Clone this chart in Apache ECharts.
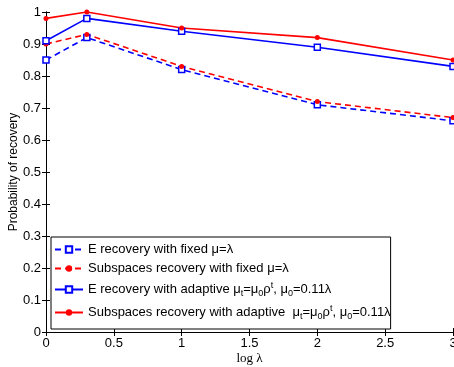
<!DOCTYPE html>
<html>
<head>
<meta charset="utf-8">
<script src="https://cdn.jsdelivr.net/npm/echarts@6/dist/echarts.min.js"></script>
<style>
  html, body { margin: 0; padding: 0; background: #fff; }
  #chart { width: 454px; height: 367px; }
</style>
</head>
<body>
<div id="chart"></div>
<script>
// log(lambda) positions
const logLambda = [0, 0.301, 1, 2, 3];
const eFixed = [0.85, 0.92, 0.82, 0.71, 0.66];
const subFixed = [0.90, 0.93, 0.83, 0.72, 0.67];
const eAdaptive = [0.91, 0.98, 0.94, 0.89, 0.83];
const subAdaptive = [0.98, 1.0, 0.95, 0.92, 0.85];
const seriesNames = [
  "E recovery with fixed μ=λ",
  "Subspaces recovery with fixed μ=λ",
  "E recovery with adaptive μt=μ0ρt, μ0=0.11λ",
  "Subspaces recovery with adaptive μt=μ0ρt, μ0=0.11λ"
];
const legendText = [
  "E recovery with fixed μ=λ",
  "Subspaces recovery with fixed μ=λ",
  "E recovery with adaptive μ{sub|t}=μ{sub|0}ρ{sup|t}, μ{sub|0}=0.11λ",
  "Subspaces recovery with adaptive  μ{sub|t}=μ{sub|0}ρ{sup|t}, μ{sub|0}=0.11λ"
];

const pairs = (ys) => logLambda.map((x, i) => [x, ys[i]]);

const chart = echarts.init(document.getElementById("chart"));
const font = "'Liberation Sans', Arial, sans-serif";

const boxAxis = {
  axisLine: { show: true, lineStyle: { color: "#000", width: 1 } },
  axisTick: { show: true, inside: true, length: 4, lineStyle: { color: "#000" } },
  splitLine: { show: false }
};

function makeSeries(name, data, color, dashed, symbol, size) {
  return {
    name: name,
    type: "line",
    data: data,
    symbol: symbol,
    symbolSize: size,
    lineStyle: { color: color, width: 1.6, type: dashed ? [6, 4] : "solid" },
    itemStyle: {
      color: symbol === "rect" ? "#fff" : color,
      borderColor: color,
      borderWidth: symbol === "rect" ? 1.5 : 0
    }
  };
}

const option = {
  animation: false,
  grid: { left: 46, right: 1, top: 12, bottom: 35, outerBoundsMode: "none" },
  textStyle: { fontFamily: font },
  xAxis: [
    Object.assign({}, boxAxis, {
      type: "value", min: 0, max: 3, interval: 0.5,
      axisLabel: { color: "#000", fontSize: 13, fontFamily: font, margin: 5 },
      name: "log λ", nameLocation: "middle", nameGap: 20, nameMoveOverlap: false,
      nameTextStyle: { color: "#000", fontSize: 13, fontFamily: "'Liberation Serif', 'Times New Roman', serif" }
    }),
    Object.assign({}, boxAxis, {
      type: "value", min: 0, max: 3, interval: 0.5, position: "top",
      axisLabel: { show: false }
    })
  ],
  yAxis: [
    Object.assign({}, boxAxis, {
      type: "value", min: 0, max: 1, interval: 0.1,
      axisLabel: { color: "#000", fontSize: 13, fontFamily: font, margin: 5 },
      name: "Probability of recovery", nameLocation: "middle", nameGap: 26, nameMoveOverlap: false,
      nameTextStyle: { color: "#000", fontSize: 12, fontFamily: font }
    }),
    Object.assign({}, boxAxis, {
      type: "value", min: 0, max: 1, interval: 0.1, position: "right",
      axisLabel: { show: false }
    })
  ],
  legend: {
    orient: "vertical",
    left: 51, top: 237,
    backgroundColor: "#fff",
    borderColor: "#000",
    borderWidth: 1,
    borderRadius: 0,
    padding: [6, 0, 8, 3],
    itemGap: 6,
    itemWidth: 28,
    itemHeight: 8,
    data: seriesNames,
    formatter: (name) => legendText[seriesNames.indexOf(name)],
    textStyle: {
      color: "#000", fontSize: 13, fontFamily: font,
      rich: {
        sub: { fontSize: 9, verticalAlign: "bottom", padding: [8, 0, 0, 0] },
        sup: { fontSize: 9, verticalAlign: "top", padding: [0, 0, 8, 0] }
      }
    }
  },
  series: [
    makeSeries(seriesNames[0], pairs(eFixed), "#0000ff", true, "rect", 6),
    makeSeries(seriesNames[1], pairs(subFixed), "#ff0000", true, "circle", 5),
    makeSeries(seriesNames[2], pairs(eAdaptive), "#0000ff", false, "rect", 6),
    makeSeries(seriesNames[3], pairs(subAdaptive), "#ff0000", false, "circle", 5)
  ]
};

chart.setOption(option);
</script>
</body>
</html>
